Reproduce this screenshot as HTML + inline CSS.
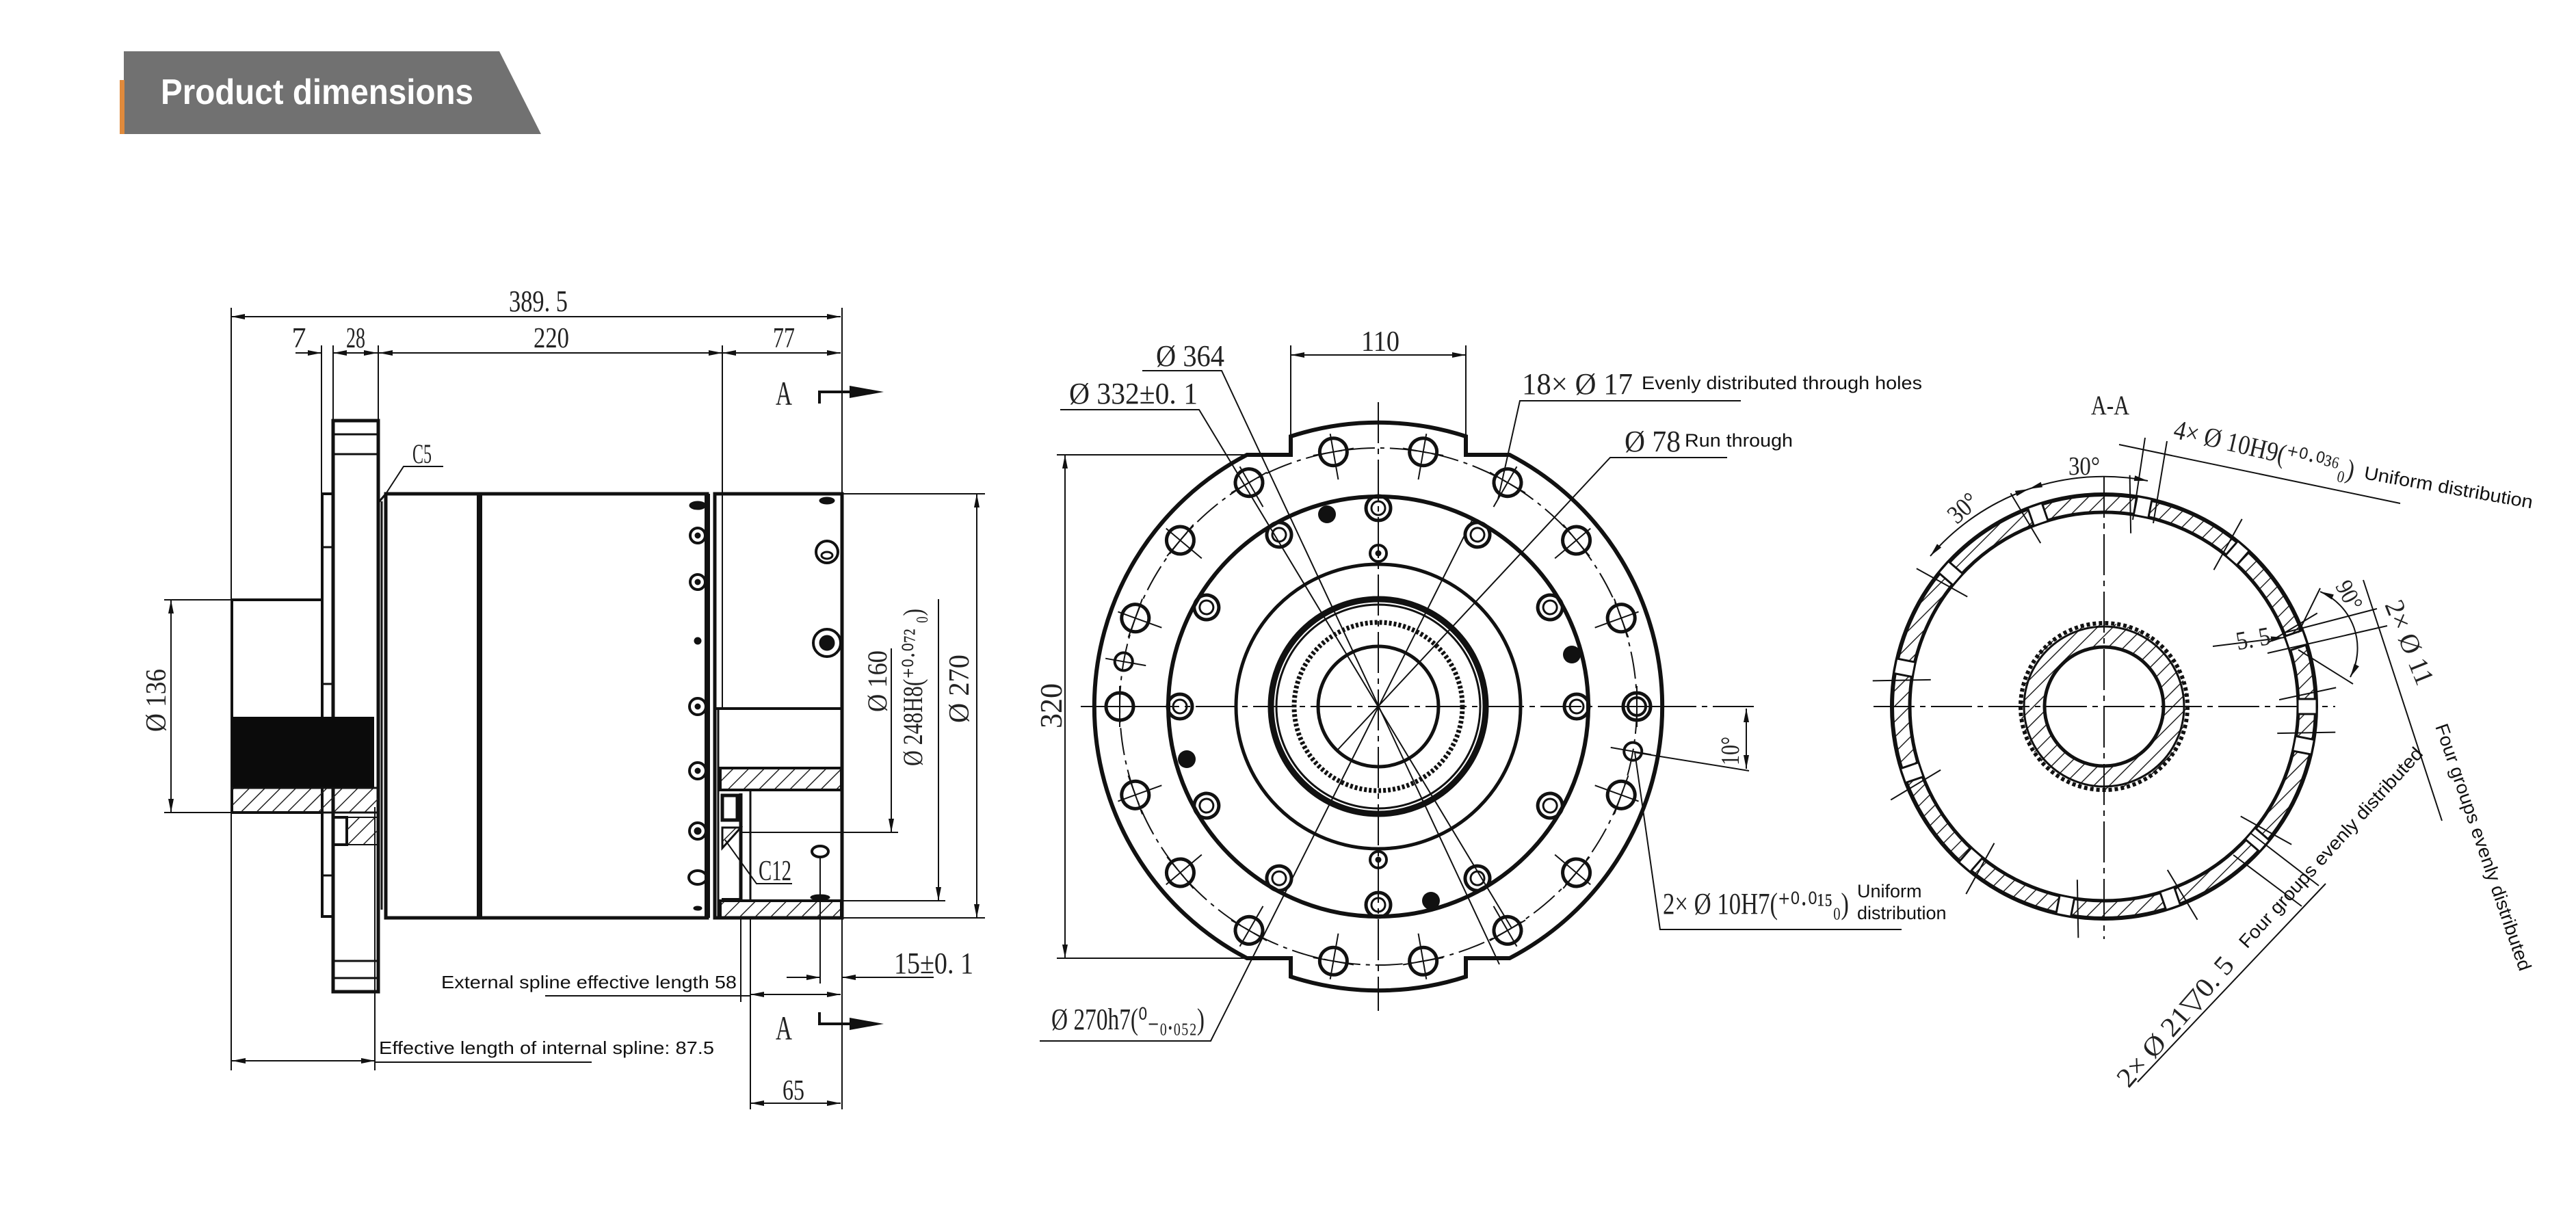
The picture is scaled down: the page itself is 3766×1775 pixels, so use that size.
<!DOCTYPE html>
<html><head><meta charset="utf-8"><style>
html,body{margin:0;padding:0;background:#fff;}
svg{display:block;}
.c{font-family:"Liberation Sans Narrow","Liberation Serif",serif;fill:#222;}
.s{font-family:"Liberation Sans","DejaVu Sans",sans-serif;fill:#111;}
</style></head><body>
<svg width="3766" height="1775" viewBox="0 0 3766 1775" xmlns="http://www.w3.org/2000/svg">
<defs>
<marker id="a" viewBox="0 0 20 10" refX="20" refY="5" markerWidth="20" markerHeight="10" markerUnits="userSpaceOnUse" orient="auto-start-reverse"><path d="M0,1 L20,5 L0,9 Z" fill="#111"/></marker>
<pattern id="h" width="16" height="16" patternUnits="userSpaceOnUse" patternTransform="rotate(45)"><line x1="0" y1="0" x2="0" y2="16" stroke="#222" stroke-width="3"/></pattern>
</defs>
<rect width="3766" height="1775" fill="#fff"/>

<!-- header -->
<polygon points="181,75 730,75 791,196 181,196" fill="#717171"/>
<rect x="175" y="117" width="7" height="79" fill="#e08a3c"/>
<text x="235" y="152" font-family="Liberation Sans,DejaVu Sans,sans-serif" font-weight="bold" font-size="52" fill="#fff" textLength="457" lengthAdjust="spacingAndGlyphs">Product dimensions</text>

<!-- ===== LEFT VIEW ===== -->
<g stroke="#111" fill="none">
<line x1="338" y1="463" x2="1229" y2="463" stroke-width="2" marker-start="url(#a)" marker-end="url(#a)"/>
<line x1="338" y1="450" x2="338" y2="1565" stroke-width="2"/>
<line x1="1231" y1="450" x2="1231" y2="1622" stroke-width="2"/>
<line x1="432" y1="516" x2="470" y2="516" stroke-width="2" marker-end="url(#a)"/>
<line x1="487" y1="516" x2="552" y2="516" stroke-width="2" marker-start="url(#a)" marker-end="url(#a)"/>
<line x1="554" y1="516" x2="1056" y2="516" stroke-width="2" marker-start="url(#a)" marker-end="url(#a)"/>
<line x1="1056" y1="516" x2="1229" y2="516" stroke-width="2" marker-start="url(#a)" marker-end="url(#a)"/>
<line x1="470" y1="505" x2="470" y2="720" stroke-width="2"/>
<line x1="487" y1="505" x2="487" y2="614" stroke-width="2"/>
<line x1="553" y1="505" x2="553" y2="614" stroke-width="2"/>
<line x1="1056" y1="505" x2="1056" y2="1036" stroke-width="2"/>
<rect x="487" y="615" width="66" height="835" stroke-width="5"/>
<line x1="487" y1="635" x2="553" y2="635" stroke-width="3"/>
<line x1="487" y1="664" x2="553" y2="664" stroke-width="3"/>
<line x1="487" y1="1405" x2="553" y2="1405" stroke-width="3"/>
<line x1="487" y1="1430" x2="553" y2="1430" stroke-width="3"/>
<rect x="471" y="722" width="16" height="618" stroke-width="4"/>
<line x1="471" y1="800" x2="487" y2="800" stroke-width="3"/>
<line x1="471" y1="1000" x2="487" y2="1000" stroke-width="3"/>
<line x1="471" y1="1100" x2="487" y2="1100" stroke-width="3"/>
<line x1="471" y1="1280" x2="487" y2="1280" stroke-width="3"/>
<line x1="558" y1="733" x2="558" y2="1330" stroke-width="3"/>
<rect x="339" y="877" width="132" height="311" stroke-width="4"/>
<rect x="339" y="1048" width="208" height="104" fill="#0b0b0b" stroke="none"/>
<rect x="339" y="1152" width="215" height="36" fill="url(#h)" stroke-width="3"/>
<rect x="487" y="1195" width="20" height="40" stroke-width="4"/>
<rect x="507" y="1195" width="46" height="40" fill="url(#h)" stroke-width="2"/>
<rect x="564" y="722" width="470" height="620" stroke-width="5"/>
<line x1="564" y1="722" x2="553" y2="735" stroke-width="3"/>
<line x1="701" y1="722" x2="701" y2="1342" stroke-width="8"/>
<line x1="1034" y1="722" x2="1034" y2="1342" stroke-width="8"/>
<rect x="1045" y="722" width="186" height="620" stroke-width="5"/>
<ellipse cx="1020" cy="739" rx="12" ry="6" fill="#111"/>
<circle cx="1020" cy="783" r="11" stroke-width="4"/><circle cx="1020" cy="783" r="4" fill="#111"/>
<circle cx="1020" cy="851" r="11" stroke-width="4"/><circle cx="1020" cy="851" r="4" fill="#111"/>
<circle cx="1020" cy="937" r="5" fill="#111"/>
<circle cx="1020" cy="1033" r="12" stroke-width="4"/><circle cx="1020" cy="1033" r="4" fill="#111"/>
<circle cx="1020" cy="1127" r="12" stroke-width="4"/><circle cx="1020" cy="1127" r="4" fill="#111"/>
<circle cx="1020" cy="1215" r="12" stroke-width="4"/><circle cx="1020" cy="1215" r="5" fill="#111"/>
<ellipse cx="1020" cy="1283" rx="13" ry="10" stroke-width="4"/>
<ellipse cx="1020" cy="1328" rx="6" ry="3" fill="#111"/>
<ellipse cx="1209" cy="732" rx="11" ry="5" fill="#111"/>
<circle cx="1209" cy="807" r="16" stroke-width="4"/><ellipse cx="1209" cy="812" rx="8" ry="5" stroke-width="3"/>
<circle cx="1209" cy="940" r="20" stroke-width="4"/><circle cx="1209" cy="940" r="11" fill="#111"/>
<line x1="1047" y1="1036" x2="1231" y2="1036" stroke-width="4"/>
<line x1="1050" y1="1036" x2="1050" y2="1342" stroke-width="3"/>
<rect x="1053" y="1123" width="177" height="32" fill="url(#h)" stroke-width="4"/>
<rect x="1053" y="1317" width="177" height="25" fill="url(#h)" stroke-width="4"/>
<line x1="1097" y1="1155" x2="1097" y2="1317" stroke-width="3"/>
<rect x="1056" y="1163" width="22" height="36" stroke-width="5"/>
<line x1="1083" y1="1160" x2="1083" y2="1317" stroke-width="5"/>
<polygon points="1056,1210 1083,1210 1056,1240" fill="url(#h)" stroke-width="3"/>
<line x1="1055" y1="1315" x2="1083" y2="1315" stroke-width="4"/>
<line x1="1083" y1="1342" x2="1083" y2="1465" stroke-width="2"/>
<line x1="1097" y1="1342" x2="1097" y2="1622" stroke-width="2"/>
<ellipse cx="1199" cy="1245" rx="12" ry="8" stroke-width="4"/>
<ellipse cx="1199" cy="1312" rx="14" ry="4" fill="#111"/>
<line x1="1199" y1="1253" x2="1199" y2="1438" stroke-width="2"/>
<line x1="1303" y1="948" x2="1303" y2="1217" stroke-width="2" marker-end="url(#a)"/>
<line x1="1085" y1="1217" x2="1313" y2="1217" stroke-width="2"/>
<line x1="1372" y1="876" x2="1372" y2="1317" stroke-width="2" marker-end="url(#a)"/>
<line x1="1231" y1="1317" x2="1382" y2="1317" stroke-width="2"/>
<line x1="1428" y1="722" x2="1428" y2="1342" stroke-width="2" marker-start="url(#a)" marker-end="url(#a)"/>
<line x1="1231" y1="722" x2="1440" y2="722" stroke-width="2"/>
<line x1="1231" y1="1342" x2="1440" y2="1342" stroke-width="2"/>
<line x1="250" y1="877" x2="250" y2="1188" stroke-width="2" marker-start="url(#a)" marker-end="url(#a)"/>
<line x1="240" y1="877" x2="339" y2="877" stroke-width="2"/>
<line x1="240" y1="1188" x2="339" y2="1188" stroke-width="2"/>
<line x1="1097" y1="1454" x2="1229" y2="1454" stroke-width="2" marker-start="url(#a)" marker-end="url(#a)"/>
<line x1="797" y1="1456" x2="1097" y2="1456" stroke-width="2"/>
<line x1="1150" y1="1429" x2="1199" y2="1429" stroke-width="2" marker-end="url(#a)"/>
<line x1="1365" y1="1429" x2="1231" y2="1429" stroke-width="2" marker-end="url(#a)"/>
<line x1="1097" y1="1613" x2="1229" y2="1613" stroke-width="2" marker-start="url(#a)" marker-end="url(#a)"/>
<line x1="339" y1="1551" x2="548" y2="1551" stroke-width="2" marker-start="url(#a)" marker-end="url(#a)"/>
<line x1="548" y1="1180" x2="548" y2="1565" stroke-width="2"/>
<line x1="548" y1="1553" x2="865" y2="1553" stroke-width="2"/>
<polyline points="1198,590 1198,573 1242,573" stroke-width="4"/>
<polygon points="1242,564 1292,573 1242,582" fill="#111" stroke="none"/>
<polyline points="1198,1480 1198,1497 1242,1497" stroke-width="4"/>
<polygon points="1242,1488 1292,1497 1242,1506" fill="#111" stroke="none"/>
<polyline points="564,722 590,682 648,682" stroke-width="2"/>
<polyline points="1060,1228 1106,1292 1158,1292" stroke-width="2"/>
</g>
<g class="c">
<text x="787" y="455" font-size="44" text-anchor="middle" textLength="86" lengthAdjust="spacingAndGlyphs">389. 5</text>
<text x="437" y="508" font-size="42" text-anchor="middle">7</text>
<text x="520" y="508" font-size="42" text-anchor="middle" textLength="28" lengthAdjust="spacingAndGlyphs">28</text>
<text x="806" y="508" font-size="42" text-anchor="middle" textLength="52" lengthAdjust="spacingAndGlyphs">220</text>
<text x="1146" y="508" font-size="42" text-anchor="middle" textLength="32" lengthAdjust="spacingAndGlyphs">77</text>
<text x="1146" y="592" font-size="50" text-anchor="middle" textLength="24" lengthAdjust="spacingAndGlyphs">A</text>
<text x="1146" y="1520" font-size="50" text-anchor="middle" textLength="24" lengthAdjust="spacingAndGlyphs">A</text>
<text x="617" y="677" font-size="40" text-anchor="middle" textLength="28" lengthAdjust="spacingAndGlyphs">C5</text>
<text x="1133" y="1287" font-size="42" text-anchor="middle" textLength="48" lengthAdjust="spacingAndGlyphs">C12</text>
<text x="1307" y="1423" font-size="44" textLength="116" lengthAdjust="spacingAndGlyphs">15±0. 1</text>
<text x="1160" y="1608" font-size="42" text-anchor="middle" textLength="32" lengthAdjust="spacingAndGlyphs">65</text>
<text transform="translate(242,1024) rotate(-90)" font-size="42" text-anchor="middle" textLength="92" lengthAdjust="spacingAndGlyphs">Ø 136</text>
<text transform="translate(1296,996) rotate(-90)" font-size="40" text-anchor="middle" textLength="90" lengthAdjust="spacingAndGlyphs">Ø 160</text>
<text transform="translate(1348,1005) rotate(-90)" font-size="40" text-anchor="middle" textLength="230" lengthAdjust="spacingAndGlyphs">Ø 248H8(⁺⁰·⁰⁷² ₀)</text>
<text transform="translate(1416,1007) rotate(-90)" font-size="42" text-anchor="middle" textLength="100" lengthAdjust="spacingAndGlyphs">Ø 270</text>
</g>
<text class="s" x="645" y="1445" font-size="26" textLength="432" lengthAdjust="spacingAndGlyphs">External spline effective length 58</text>
<text class="s" x="554" y="1541" font-size="26" textLength="490" lengthAdjust="spacingAndGlyphs">Effective length of internal spline: 87.5</text>

<!-- ===== FRONT VIEW ===== -->
<g stroke="#111" fill="none">
<path d="M1823,665 H1887 V638 A415,415 0 0 1 2143,638 V665 H2207 A415,415 0 0 1 2207,1401 H2143 V1428 A415,415 0 0 1 1887,1428 V1401 H1823 A415,415 0 0 1 1823,665 Z" stroke-width="6"/>
<circle cx="2015" cy="1033" r="378" stroke-width="2" stroke-dasharray="40 8 6 8"/>
<circle cx="2015" cy="1033" r="307" stroke-width="6"/>
<circle cx="2015" cy="1033" r="208" stroke-width="5"/>
<circle cx="2015" cy="1033" r="157" stroke-width="9"/>
<circle cx="2015" cy="1033" r="149" stroke-width="3"/>
<circle cx="2015" cy="1033" r="123" stroke-width="7" stroke-dasharray="4 3"/>
<circle cx="2015" cy="1033" r="88" stroke-width="5"/>
<line x1="1580" y1="1033" x2="2565" y2="1033" stroke-width="2" stroke-dasharray="60 8 8 8"/>
<line x1="2015" y1="588" x2="2015" y2="1478" stroke-width="2" stroke-dasharray="60 8 8 8"/>
<g id="bh"><circle cx="2393" cy="1033" r="20" stroke-width="5"/><line x1="2352" y1="1033" x2="2420" y2="1033" stroke-width="2"/><line x1="2393" y1="1003" x2="2393" y2="1063" stroke-width="2"/></g>
<use href="#bh" transform="rotate(20 2015 1033)"/><use href="#bh" transform="rotate(40 2015 1033)"/><use href="#bh" transform="rotate(60 2015 1033)"/><use href="#bh" transform="rotate(80 2015 1033)"/><use href="#bh" transform="rotate(100 2015 1033)"/><use href="#bh" transform="rotate(120 2015 1033)"/><use href="#bh" transform="rotate(140 2015 1033)"/><use href="#bh" transform="rotate(160 2015 1033)"/><use href="#bh" transform="rotate(180 2015 1033)"/><use href="#bh" transform="rotate(200 2015 1033)"/><use href="#bh" transform="rotate(220 2015 1033)"/><use href="#bh" transform="rotate(240 2015 1033)"/><use href="#bh" transform="rotate(260 2015 1033)"/><use href="#bh" transform="rotate(280 2015 1033)"/><use href="#bh" transform="rotate(300 2015 1033)"/><use href="#bh" transform="rotate(320 2015 1033)"/><use href="#bh" transform="rotate(340 2015 1033)"/>
<g id="sh"><circle cx="2393" cy="1033" r="13" stroke-width="4"/><line x1="2360" y1="1033" x2="2420" y2="1033" stroke-width="2"/></g>
<use href="#sh" transform="rotate(10 2015 1033)"/><use href="#sh" transform="rotate(190 2015 1033)"/>
<g id="ih"><circle cx="2305" cy="1033" r="18" stroke-width="5"/><circle cx="2305" cy="1033" r="10" stroke-width="3"/></g>
<use href="#ih" transform="rotate(30 2015 1033)"/><use href="#ih" transform="rotate(60 2015 1033)"/><use href="#ih" transform="rotate(90 2015 1033)"/><use href="#ih" transform="rotate(120 2015 1033)"/><use href="#ih" transform="rotate(150 2015 1033)"/><use href="#ih" transform="rotate(180 2015 1033)"/><use href="#ih" transform="rotate(210 2015 1033)"/><use href="#ih" transform="rotate(240 2015 1033)"/><use href="#ih" transform="rotate(270 2015 1033)"/><use href="#ih" transform="rotate(300 2015 1033)"/><use href="#ih" transform="rotate(330 2015 1033)"/>
<circle cx="2015" cy="809" r="12" stroke-width="4"/><circle cx="2015" cy="809" r="4" fill="#111"/>
<circle cx="2015" cy="1257" r="12" stroke-width="4"/><circle cx="2015" cy="1257" r="4" fill="#111"/>
<g fill="#111" stroke="none"><circle cx="1940" cy="752" r="13"/><circle cx="2092" cy="1317" r="13"/><circle cx="2298" cy="957" r="13"/><circle cx="1735" cy="1110" r="13"/></g>
<polyline points="1670,542 1786,542 2192,1410" stroke-width="2"/>
<polyline points="1550,599 1753,599 2210,1357" stroke-width="2"/>
<polyline points="2525,669 2354,669 1954,1098" stroke-width="2"/>
<polyline points="1520,1522 1770,1522 2153,759" stroke-width="2"/>
<polyline points="2545,586 2222,586 2190,730" stroke-width="2"/>
<polyline points="2780,1359 2427,1359 2390,1100" stroke-width="2"/>
<line x1="1887" y1="519" x2="2143" y2="519" stroke-width="2" marker-start="url(#a)" marker-end="url(#a)"/>
<line x1="1887" y1="505" x2="1887" y2="638" stroke-width="2"/>
<line x1="2143" y1="505" x2="2143" y2="638" stroke-width="2"/>
<line x1="1557" y1="665" x2="1557" y2="1401" stroke-width="2" marker-start="url(#a)" marker-end="url(#a)"/>
<line x1="1545" y1="665" x2="1823" y2="665" stroke-width="2"/>
<line x1="1545" y1="1401" x2="1823" y2="1401" stroke-width="2"/>
<line x1="2390" y1="1100" x2="2557" y2="1127" stroke-width="2"/>
<line x1="2553" y1="1036" x2="2553" y2="1124" stroke-width="2" marker-start="url(#a)" marker-end="url(#a)"/>
</g>
<g class="c">
<text x="2018" y="513" font-size="42" text-anchor="middle" textLength="56" lengthAdjust="spacingAndGlyphs">110</text>
<text x="1690" y="535" font-size="44" textLength="100" lengthAdjust="spacingAndGlyphs">Ø 364</text>
<text x="1563" y="590" font-size="44" textLength="188" lengthAdjust="spacingAndGlyphs">Ø 332±0. 1</text>
<text transform="translate(1552,1032) rotate(-90)" font-size="46" text-anchor="middle" textLength="66" lengthAdjust="spacingAndGlyphs">320</text>
<text x="2225" y="576" font-size="44" textLength="162" lengthAdjust="spacingAndGlyphs">18× Ø 17</text>
<text x="2375" y="660" font-size="44" textLength="82" lengthAdjust="spacingAndGlyphs">Ø 78</text>
<text transform="translate(2542,1098) rotate(-90)" font-size="38" text-anchor="middle" textLength="42" lengthAdjust="spacingAndGlyphs">10°</text>
<text x="2431" y="1336" font-size="44" textLength="272" lengthAdjust="spacingAndGlyphs">2× Ø 10H7(⁺⁰·⁰¹⁵₀)</text>
<text x="1537" y="1505" font-size="44" textLength="224" lengthAdjust="spacingAndGlyphs">Ø 270h7(⁰₋₀.₀₅₂)</text>
</g>
<text class="s" x="2400" y="569" font-size="27" textLength="410" lengthAdjust="spacingAndGlyphs">Evenly distributed through holes</text>
<text class="s" x="2463" y="653" font-size="27" textLength="158" lengthAdjust="spacingAndGlyphs">Run through</text>
<text class="s" x="2715" y="1312" font-size="27">Uniform</text>
<text class="s" x="2715" y="1344" font-size="27">distribution</text>

<!-- ===== A-A VIEW ===== -->
<g stroke="#111" fill="none">
<path d="M2766,1033 a310,310 0 1 0 620,0 a310,310 0 1 0 -620,0 Z M2792,1033 a284,284 0 1 0 568,0 a284,284 0 1 0 -568,0 Z" fill="url(#h)" fill-rule="evenodd" stroke="none"/>
<circle cx="3076" cy="1033" r="310" stroke-width="6"/>
<circle cx="3076" cy="1033" r="284" stroke-width="5"/>
<path d="M2954,1033 a122,122 0 1 0 244,0 a122,122 0 1 0 -244,0 Z M2989,1033 a87,87 0 1 0 174,0 a87,87 0 1 0 -174,0 Z" fill="url(#h)" fill-rule="evenodd" stroke="none"/>
<circle cx="3076" cy="1033" r="122" stroke-width="6" stroke-dasharray="5 4"/>
<circle cx="3076" cy="1033" r="117" stroke-width="3"/>
<circle cx="3076" cy="1033" r="87" stroke-width="5"/>
<line x1="2739" y1="1033" x2="3414" y2="1033" stroke-width="2" stroke-dasharray="60 8 8 8"/>
<line x1="3076" y1="697" x2="3076" y2="1373" stroke-width="2" stroke-dasharray="60 8 8 8"/>
<g id="rh"><rect x="3359" y="1022" width="28" height="22" fill="#fff" stroke-width="3"/><line x1="3335" y1="1015" x2="3420" y2="1015" stroke-width="2" transform="rotate(-12 3372 1033)"/></g>
<use href="#rh" transform="rotate(-79 3076 1033)"/><use href="#rh" transform="rotate(-109 3076 1033)"/><use href="#rh" transform="rotate(-139 3076 1033)"/><use href="#rh" transform="rotate(-169 3076 1033)"/><use href="#rh" transform="rotate(-199 3076 1033)"/><use href="#rh" transform="rotate(-229 3076 1033)"/><use href="#rh" transform="rotate(-259 3076 1033)"/><use href="#rh" transform="rotate(-289 3076 1033)"/><use href="#rh" transform="rotate(-319 3076 1033)"/><use href="#rh" transform="rotate(-349 3076 1033)"/><use href="#rh" transform="rotate(-19 3076 1033)"/><use href="#rh" transform="rotate(-49 3076 1033)"/>
<path d="M2822,813 A336,336 0 0 1 2966,715" stroke-width="2" marker-start="url(#a)" marker-end="url(#a)"/>
<path d="M2966,715 A336,336 0 0 1 3140,703" stroke-width="2" marker-start="url(#a)" marker-end="url(#a)"/>
<line x1="3098" y1="650" x2="3509" y2="736" stroke-width="2"/>
<line x1="3118" y1="760" x2="3136" y2="640" stroke-width="2"/>
<line x1="3148" y1="765" x2="3168" y2="645" stroke-width="2"/>
<path d="M3392,865 A90,90 0 0 1 3436,990" stroke-width="2" marker-start="url(#a)" marker-end="url(#a)"/>
<line x1="3360" y1="925" x2="3392" y2="860" stroke-width="2"/>
<line x1="3360" y1="950" x2="3440" y2="1000" stroke-width="2"/>
<line x1="3340" y1="925" x2="3475" y2="890" stroke-width="2"/>
<line x1="3315" y1="955" x2="3490" y2="915" stroke-width="2"/>
<line x1="3235" y1="945" x2="3340" y2="932" stroke-width="2" marker-end="url(#a)"/>
<line x1="3455" y1="848" x2="3570" y2="1200" stroke-width="2"/>
<line x1="3125" y1="1582" x2="3400" y2="1292" stroke-width="2"/>
<line x1="3290" y1="1218" x2="3390" y2="1295" stroke-width="2"/>
<line x1="3265" y1="1250" x2="3365" y2="1325" stroke-width="2"/>
</g>
<g class="c">
<text x="3085" y="606" font-size="40" text-anchor="middle" textLength="56" lengthAdjust="spacingAndGlyphs">A-A</text>
<text transform="translate(3176,640) rotate(13)" font-size="40" textLength="270" lengthAdjust="spacingAndGlyphs">4× Ø 10H9(⁺⁰·⁰³⁶₀)</text>
<text x="3047" y="694" font-size="38" text-anchor="middle" textLength="46" lengthAdjust="spacingAndGlyphs">30°</text>
<text transform="translate(2878,752) rotate(-42)" font-size="38" text-anchor="middle" textLength="46" lengthAdjust="spacingAndGlyphs">30°</text>
<text transform="translate(3424,876) rotate(62)" font-size="36" text-anchor="middle" textLength="44" lengthAdjust="spacingAndGlyphs">90°</text>
<text transform="translate(3296,946) rotate(-10)" font-size="38" text-anchor="middle" textLength="50" lengthAdjust="spacingAndGlyphs">5. 5</text>
<text transform="translate(3486,884) rotate(68)" font-size="40" textLength="130" lengthAdjust="spacingAndGlyphs">2× Ø 11</text>
<text transform="translate(3112,1592) rotate(-49)" font-size="40" textLength="238" lengthAdjust="spacingAndGlyphs">2× Ø 21▽0. 5</text>
</g>
<text class="s" transform="translate(3455,700) rotate(10)" font-size="27" textLength="250" lengthAdjust="spacingAndGlyphs">Uniform distribution</text>
<text class="s" transform="translate(3560,1062) rotate(71)" font-size="27" textLength="380" lengthAdjust="spacingAndGlyphs">Four groups evenly distributed</text>
<text class="s" transform="translate(3285,1388) rotate(-47.8)" font-size="27" textLength="385" lengthAdjust="spacingAndGlyphs">Four groups evenly distributed</text>
</svg>
</body></html>
